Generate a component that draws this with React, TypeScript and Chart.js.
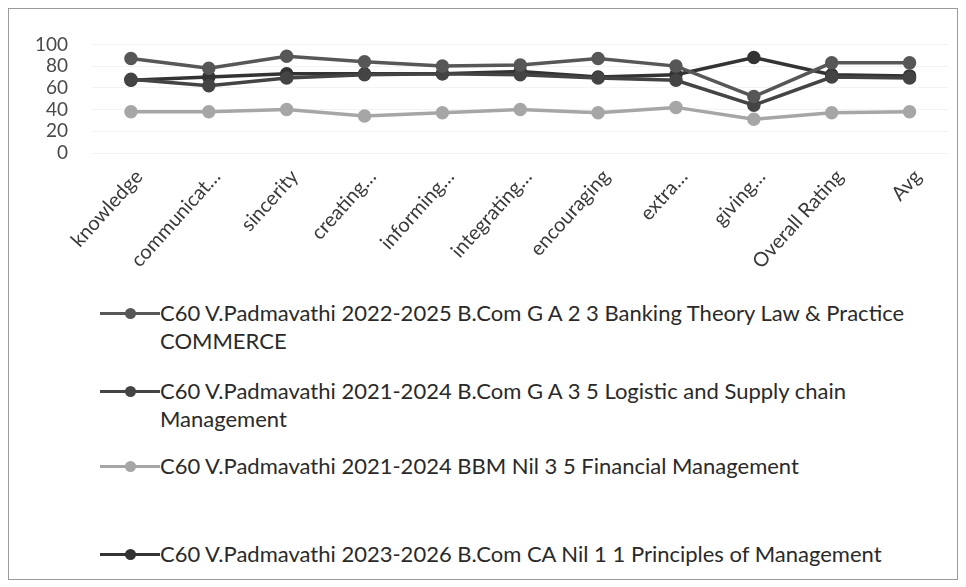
import React, { useEffect, useRef } from "react";
import { Chart, registerables } from "chart.js";

Chart.register(...registerables);

const categories = [
  "knowledge",
  "communicat…",
  "sincerity",
  "creating…",
  "informing…",
  "integrating…",
  "encouraging",
  "extra…",
  "giving…",
  "Overall Rating",
  "Avg",
];

const seriesNames = [
  "C60 V.Padmavathi 2022-2025 B.Com G A 2 3 Banking Theory Law & Practice COMMERCE",
  "C60 V.Padmavathi 2021-2024 B.Com G A 3 5 Logistic and Supply chain Management",
  "C60 V.Padmavathi 2021-2024 BBM Nil 3 5 Financial Management",
  "C60 V.Padmavathi 2023-2026 B.Com CA Nil 1 1 Principles of Management",
];

const bankingValues = [87, 78, 89, 84, 80, 81, 87, 80, 52, 83, 83];
const logisticValues = [68, 62, 69, 72, 73, 72, 69, 67, 44, 70, 69];
const financialValues = [38, 38, 40, 34, 37, 40, 37, 42, 31, 37, 38];
const principlesValues = [67, 70, 73, 73, 73, 75, 70, 72, 88, 72, 71];

const yTickValues = [0, 20, 40, 60, 80, 100];

const seriesColors = ["#575757", "#444444", "#a6a6a6", "#333333"];
const legendGaps = [0, 22, 19, 60];

const FONT = "Lato, 'Open Sans', sans-serif";

export default function App() {
  const canvasRef = useRef<HTMLCanvasElement | null>(null);

  useEffect(() => {
    if (!canvasRef.current) return;
    const allValues = [bankingValues, logisticValues, financialValues, principlesValues];
    const chart = new Chart(canvasRef.current, {
      type: "line",
      data: {
        labels: categories,
        datasets: allValues.map((vals, i) => ({
          label: seriesNames[i],
          data: vals,
          borderColor: seriesColors[i],
          backgroundColor: seriesColors[i],
          pointBackgroundColor: seriesColors[i],
          pointBorderColor: seriesColors[i],
          borderWidth: 3.5,
          pointRadius: 5,
          tension: 0,
          fill: false,
        })),
      },
      options: {
        responsive: false,
        animation: false,
        layout: { padding: { top: 29, left: 0, right: 1, bottom: 0 } },
        plugins: {
          legend: { display: false },
          tooltip: { enabled: false },
        },
        scales: {
          x: {
            offset: true,
            grid: { display: false, drawTicks: false },
            border: { display: false },
            ticks: {
              autoSkip: false,
              maxRotation: 48,
              minRotation: 48,
              padding: 12,
              labelOffset: 8,
              color: "#3a3a3a",
              font: { family: FONT, size: 20 },
            },
            afterFit: (scale: any) => {
              scale.height = 142;
            },
          },
          y: {
            min: 0,
            max: 100,
            afterBuildTicks: (scale: any) => {
              scale.ticks = yTickValues.map((v) => ({ value: v }));
            },
            grid: { color: "#f3f3f3", drawTicks: false, lineWidth: 1 },
            border: { display: false },
            ticks: {
              autoSkip: false,
              padding: 24,
              color: "#4a4a4a",
              font: { family: FONT, size: 19 },
            },
            afterFit: (scale: any) => {
              scale.width = 83;
            },
          },
        },
      },
    });
    return () => chart.destroy();
  }, []);

  return (
    <div
      style={{
        width: 950,
        height: 572,
        boxSizing: "border-box",
        border: "1px solid #9a9a9a",
        position: "relative",
        background: "#fff",
      }}
    >
      <canvas ref={canvasRef} width={948} height={286} style={{ display: "block" }} />
      <div style={{ position: "absolute", left: 91, top: 290, width: 850 }}>
        {seriesNames.map((name, i) => (
          <div
            key={name}
            style={{
              display: "flex",
              alignItems: "flex-start",
              marginTop: legendGaps[i],
            }}
          >
            <div style={{ position: "relative", width: 60, height: 28, flex: "0 0 60px" }}>
              <div
                style={{
                  position: "absolute",
                  left: 0,
                  right: 0,
                  top: 13,
                  height: 3,
                  background: seriesColors[i],
                }}
              />
              <div
                style={{
                  position: "absolute",
                  left: 25,
                  top: 9,
                  width: 11,
                  height: 11,
                  borderRadius: "50%",
                  background: seriesColors[i],
                }}
              />
            </div>
            <div
              style={{
                fontFamily: FONT,
                fontSize: 22,
                lineHeight: "28px",
                color: "#2a2a2a",
                width: 775,
              }}
            >
              {name}
            </div>
          </div>
        ))}
      </div>
    </div>
  );
}
